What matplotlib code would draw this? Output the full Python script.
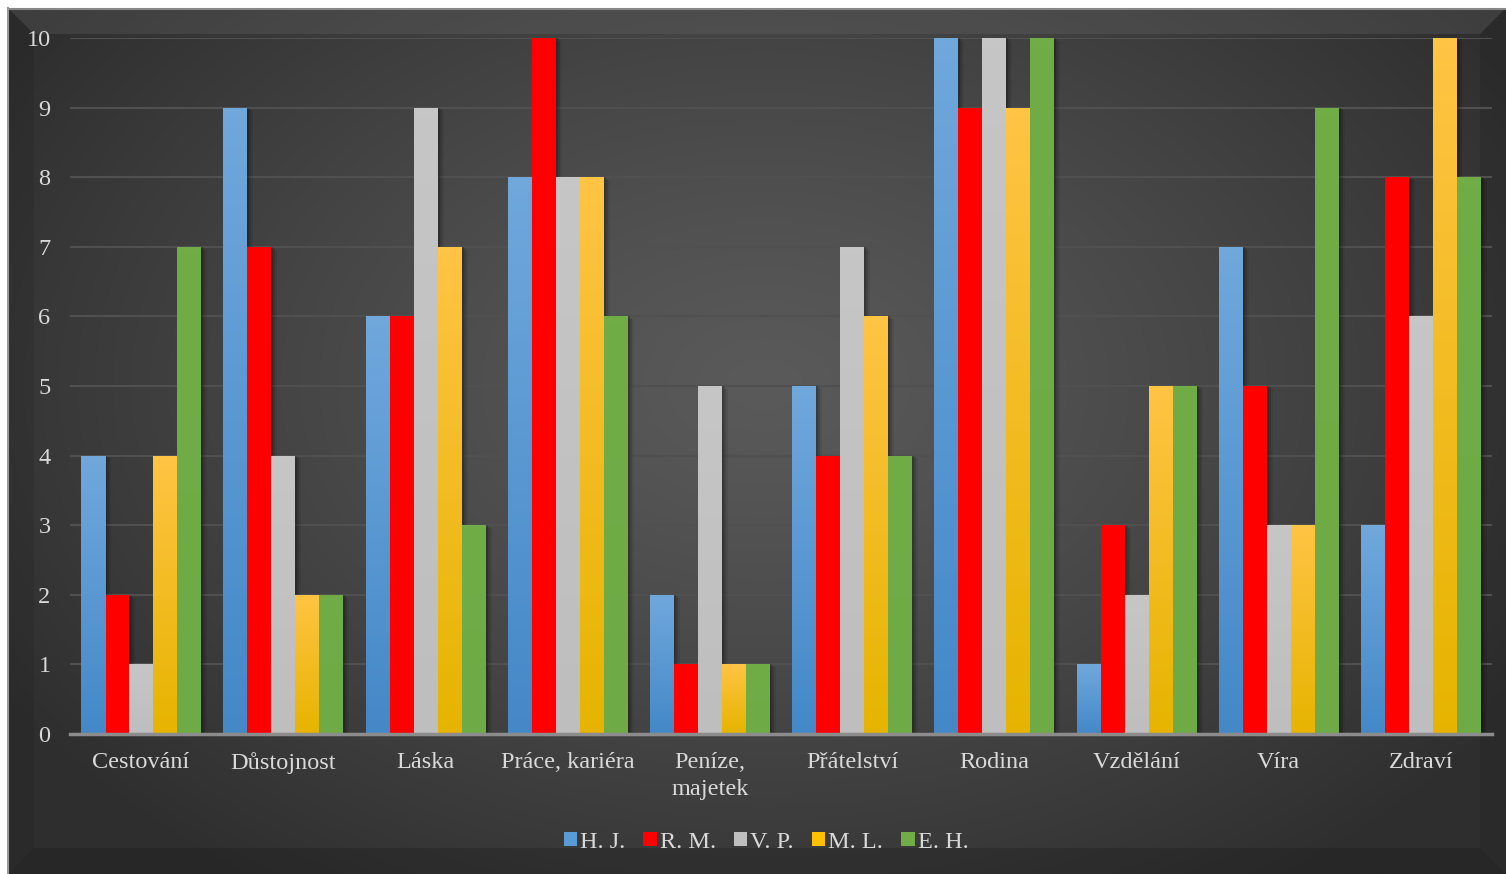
import numpy as np
import matplotlib
matplotlib.use('Agg')
import matplotlib.pyplot as plt
from matplotlib.patches import Polygon, Patch
from matplotlib.colors import LinearSegmentedColormap

plt.rcParams['font.family'] = ['Liberation Serif', 'DejaVu Serif']

categories = ['Cestování', 'Důstojnost', 'Láska', 'Práce, kariéra', 'Peníze,\nmajetek',
              'Přátelství', 'Rodina', 'Vzdělání', 'Víra', 'Zdraví']
names = ['H. J.', 'R. M.', 'V. P.', 'M. L.', 'E. H.']
hj = [4, 9, 6, 8, 2, 5, 10, 1, 7, 3]
rm = [2, 7, 6, 10, 1, 4, 9, 3, 5, 8]
vp = [1, 4, 9, 8, 5, 7, 10, 2, 3, 6]
ml = [4, 2, 7, 8, 1, 6, 9, 5, 3, 10]
eh = [7, 2, 3, 6, 1, 4, 10, 5, 9, 8]
series = [hj, rm, vp, ml, eh]

# barva nahoře / dole (svislý přechod)
grads = [('#70a8dc', '#4488c8'), ('#ff0000', '#ff0000'), ('#c6c6c6', '#bebebe'),
         ('#ffc444', '#e6b400'), ('#70ad47', '#6eaa45')]
legend_cols = ['#5b9bd5', '#ff0000', '#bfbfbf', '#ffc000', '#70ad47']

W, H = 1506, 874
fig = plt.figure(figsize=(W / 100, H / 100), dpi=100)
fig.patch.set_facecolor('white')

# pozadí - tmavý radiální přechod a zkosený rámeček
bg = fig.add_axes([0, 0, 1, 1])
bg.set_xlim(0, W)
bg.set_ylim(H, 0)
bg.axis('off')
yy, xx = np.mgrid[0:H, 0:W]
r = np.sqrt(((xx - 760) / 900.0) ** 2 + ((yy - 380) / 620.0) ** 2)
r = np.clip(r, 0, 1) ** 1.2
c0, c1 = 0x5a / 255, 0x2e / 255
img = c0 + (c1 - c0) * r
bg.imshow(np.dstack([img] * 3), extent=[8, W, H, 8], aspect='auto', zorder=0)
b = 26
bevels = [
    ([(8, 8), (W, 8), (W - b, 8 + b), (8 + b, 8 + b)], '#707070', 0.25),
    ([(8, 8), (8 + b, 8 + b), (8 + b, H - b), (8, H)], '#1e1e1e', 0.2),
    ([(8, H), (8 + b, H - b), (W - b, H - b), (W, H)], '#151515', 0.25),
    ([(W, 8), (W, H), (W - b, H - b), (W - b, 8 + b)], '#1a1a1a', 0.2),
]
for pts, col, a in bevels:
    bg.add_patch(Polygon(pts, closed=True, facecolor=col, alpha=a, edgecolor='none', zorder=1))
bg.plot([8, W], [8.5, 8.5], color='#888888', lw=1.5, zorder=2)
bg.plot([8.5, 8.5], [8, H], color='#999999', lw=1.5, zorder=2)

ax = fig.add_axes([70 / W, (H - 734) / H, (1492 - 70) / W, (734 - 38) / H])
ax.set_facecolor('none')

x = np.arange(len(categories))
bw = 24 / 142.2
offsets = (np.arange(5) - 2) * bw
px = 1 / 142.2

for i, vals in enumerate(series):
    top, bot = grads[i]
    cmap = LinearSegmentedColormap.from_list('g%d' % i, [bot, top])
    bars = ax.bar(x + offsets[i], vals, width=bw, color=top, zorder=3)
    for bar, v in zip(bars, vals):
        x0 = bar.get_x()
        # stín vpravo od sloupce
        for k, a in enumerate([0.18, 0.12, 0.07]):
            ax.add_patch(plt.Rectangle((x0 + (2 + 2 * k) * px, 0), bw, v - 0.02 * k,
                                       facecolor='black', alpha=a, edgecolor='none', zorder=2))
        if top != bot:
            grad = np.linspace(0, 1, 64).reshape(-1, 1)
            im = ax.imshow(grad, extent=[x0, x0 + bw, 0, v], origin='lower', cmap=cmap,
                           aspect='auto', zorder=3.5, vmin=0, vmax=1)
            im.set_clip_path(bar)

ax.set_xlim(-0.5, len(categories) - 0.5)
ax.set_ylim(0, 10)
ax.set_yticks(range(0, 11))
ax.set_xticks(x)
ax.set_xticklabels(categories, linespacing=1.35)
ax.yaxis.grid(True, color='#505050', lw=1.5, zorder=1)
ax.set_axisbelow(True)
for s in ['top', 'right', 'left']:
    ax.spines[s].set_visible(False)
ax.spines['bottom'].set_color('#8c8c8c')
ax.spines['bottom'].set_linewidth(2.5)
ax.spines['bottom'].set_zorder(5)
ax.tick_params(axis='both', length=0, colors='#d9d9d9', labelsize=17.5)
ax.tick_params(axis='y', pad=14)
ax.tick_params(axis='x', pad=13)

handles = [Patch(facecolor=c, edgecolor='none') for c in legend_cols]
fig.legend(handles, names, loc='center', bbox_to_anchor=(766 / W, 1 - 842 / H), ncol=5,
           frameon=False, fontsize=17.5, labelcolor='#d9d9d9', handlelength=0.55,
           handleheight=0.55, handletextpad=0.12, columnspacing=0.75)

fig.savefig('out.png', dpi=100, facecolor=fig.get_facecolor())
